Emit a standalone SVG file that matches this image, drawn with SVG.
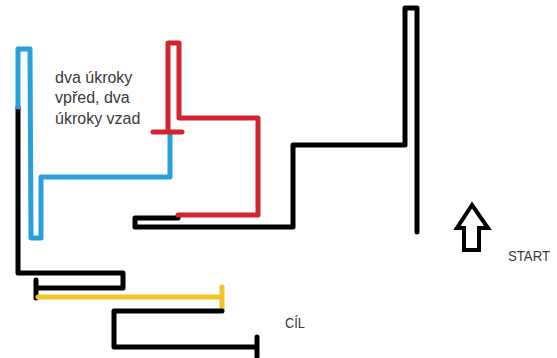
<svg xmlns="http://www.w3.org/2000/svg" width="557" height="358" viewBox="0 0 557 358">
<style>
.l{fill:none;stroke-width:5;stroke-linecap:round;stroke-linejoin:round}
.k{stroke:#000}
.b{stroke:#2aa0d8}
.r{stroke:#d0252f}
.y{stroke:#f2c42b}
.t{font-family:"Liberation Sans",Arial,sans-serif;fill:#3a3a3a}
</style>
<rect width="557" height="358" fill="#fff"/>
<g id="paths">
<path id="black-left" class="l k" d="M18,107 L18,273 L123,273 L123,288 L36,288 M36,280 L36,298"/>
<path id="blue" class="l b" d="M170,133 L170,177 L41,177 L41,238 L31,238 L30,49 L18,49 L18,107"/>
<path id="yellow" class="l y" d="M38,297 L222,297 M222,287 L222,310"/>
<path id="black-bottom" class="l k" d="M222,311 L114,311 L114,347 L257,347 M257,337 L257,357"/>
<path id="black-right" class="l k" d="M135,218 L178,218 M135,218 L135,227 L293,227 L293,145 L405,145 L405,8 L417,8 L417,232"/>
<path id="red" class="l r" d="M178,215 L258,215 L258,118 L179,118 L179,43 L168,43 L168,132 M153,132 L182,132"/>
</g>
<g id="arrow">
<polygon points="472,205 488,228 479,228 479,250 464,250 464,228 457,228" fill="#fff" stroke="#000" stroke-width="4" stroke-linejoin="miter"/>
</g>
<g id="labels">
<text class="t" font-size="16" x="55" y="83">dva úkroky</text>
<text class="t" font-size="16" x="55" y="103">vpřed, dva</text>
<text class="t" font-size="16" x="55" y="124">úkroky vzad</text>
<text class="t" font-size="15" x="508" y="261" textLength="42" lengthAdjust="spacingAndGlyphs">START</text>
<text class="t" font-size="15" x="285" y="328" textLength="20" lengthAdjust="spacingAndGlyphs">CÍL</text>
</g>
</svg>
